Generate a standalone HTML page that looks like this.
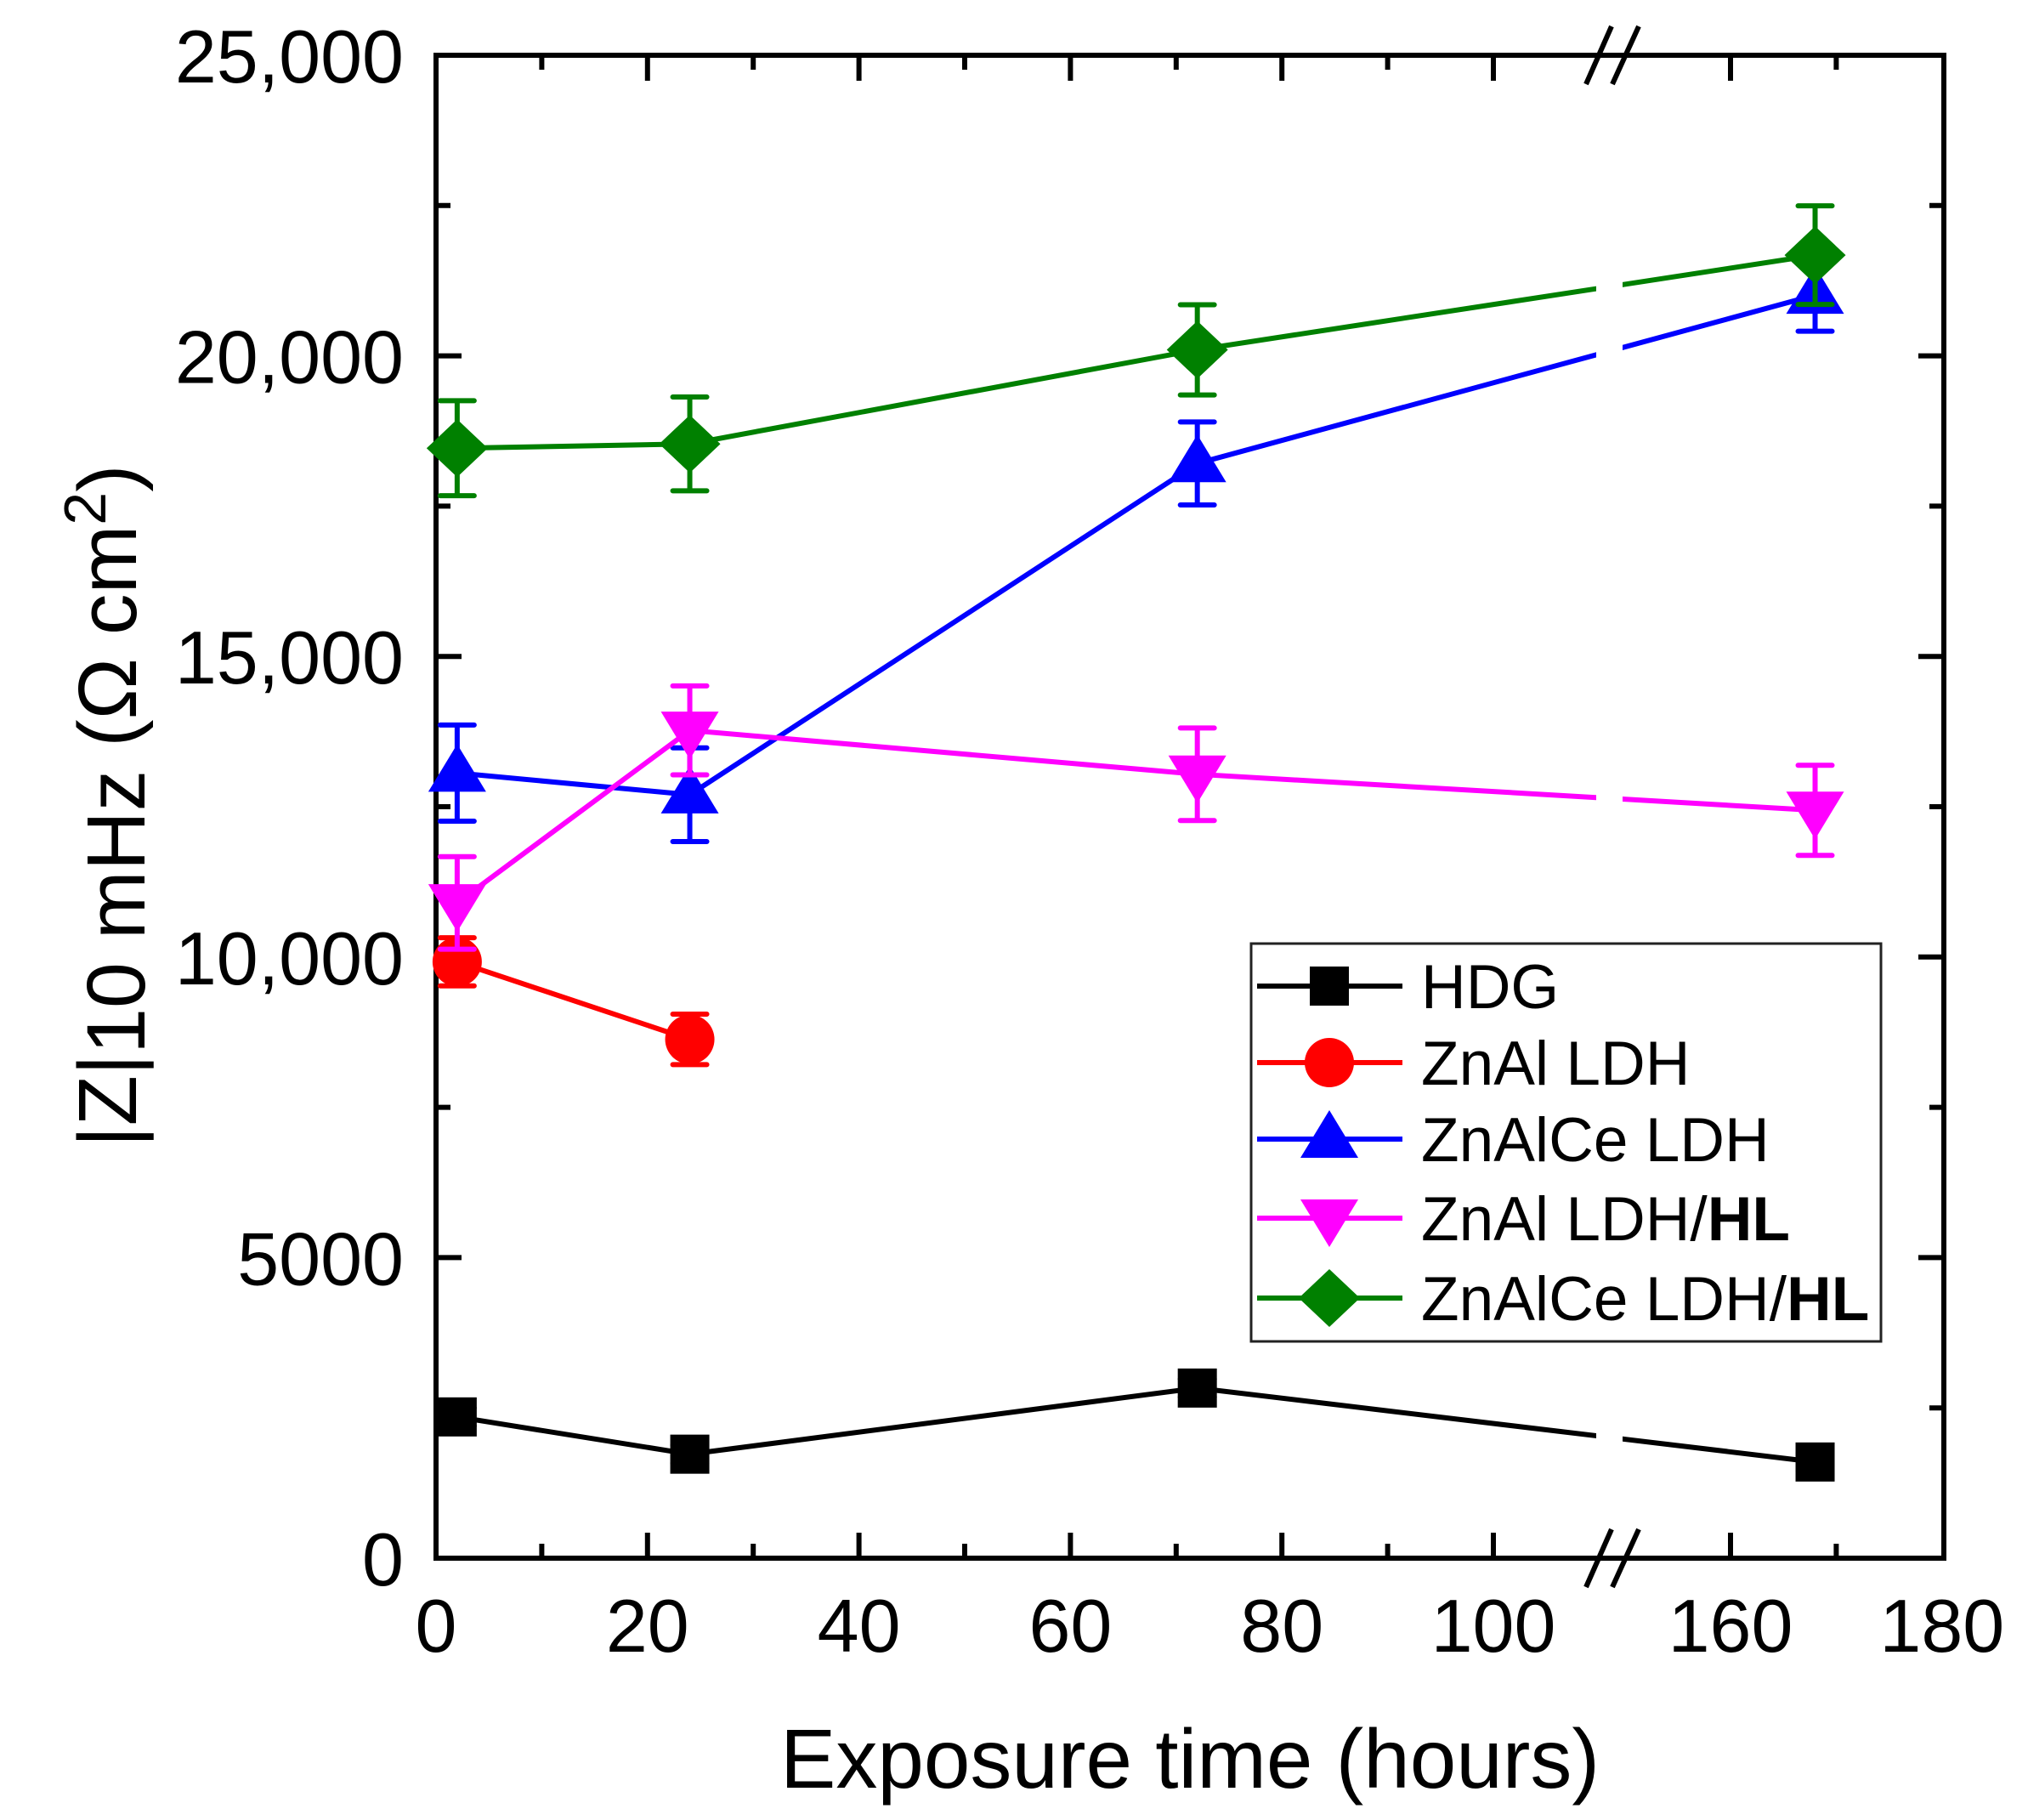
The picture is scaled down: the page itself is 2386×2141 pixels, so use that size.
<!DOCTYPE html>
<html><head><meta charset="utf-8">
<style>
html,body{margin:0;padding:0;background:#fff;}
svg{display:block;}
text{font-family:"Liberation Sans",Arial,sans-serif;fill:#000;}
</style></head>
<body>
<svg id="chart" width="2386" height="2141" viewBox="0 0 2386 2141" xmlns="http://www.w3.org/2000/svg">
<defs>
<clipPath id="gapclip"><rect x="0" y="0" width="1878" height="2141"/><rect x="1909" y="0" width="500" height="2141"/></clipPath>
</defs>
<g id="axes"></g>
<g id="series"></g>
<g id="legend"></g>
<text x="1400" y="2103" font-size="98" text-anchor="middle">Exposure time (hours)</text>
<text transform="translate(160,948) rotate(-90)" font-size="97" text-anchor="middle">|Z|<tspan dy="10">10 mHz</tspan><tspan dy="-10"> (Ω cm</tspan><tspan dy="-36" font-size="70">2</tspan><tspan dy="36">)</tspan></text>
</svg>
<script>
const xTimes = [2, 24, 72, 168];
const hdgVals = [2350, 1730, 2830, 1600];
const hdgErr = [150, 150, 150, 150];
const znalVals = [9920, 8630];
const znalErr = [400, 420];
const znalceVals = [13060, 12700, 18210, 21010];
const znalceErr = [800, 780, 690, 600];
const znalHlVals = [10900, 13770, 13040, 12440];
const znalHlErr = [770, 740, 770, 750];
const znalceHlVals = [18463, 18535, 20100, 21675];
const znalceHlErr = [790, 780, 750, 820];
const yTickVals = [0, 5000, 10000, 15000, 20000, 25000];
const yTickLabels = ["0", "5000", "10,000", "15,000", "20,000", "25,000"];
const xTickVals = [0, 20, 40, 60, 80, 100, 160, 180];
const xTickLabels = ["0", "20", "40", "60", "80", "100", "160", "180"];
const xMinorVals = [10, 30, 50, 70, 90, 170];
const legendLabels = ["HDG", "ZnAl LDH", "ZnAlCe LDH", "ZnAl LDH/", "ZnAlCe LDH/"];

const NS = "http://www.w3.org/2000/svg";
const L = 513, R = 2287, T = 65, B = 1833;
function xs(x){ return x <= 120 ? L + x*12.44 : 2036 + (x-160)*12.44; }
function ys(v){ return B - v*(B-T)/25000; }
function mk(tag, attrs, parent){
  const e = document.createElementNS(NS, tag);
  for (const k in attrs) e.setAttribute(k, attrs[k]);
  parent.appendChild(e);
  return e;
}
const axes = document.getElementById('axes');
const series = document.getElementById('series');
const legend = document.getElementById('legend');

// frame
let fr = mk('rect', {x:L, y:T, width:R-L, height:B-T, fill:'none', stroke:'#000', 'stroke-width':6}, axes);



// y ticks
yTickVals.forEach((v,i)=>{
  const y = ys(v);
  let t1 = mk('line', {x1:L, x2:L+30, y1:y, y2:y, stroke:'#000','stroke-width':6}, axes);
  
  
  let t2 = mk('line', {x1:R, x2:R-30, y1:y, y2:y, stroke:'#000','stroke-width':6}, axes);
  
  
  let lb = mk('text', {x:475, y:y+32, 'font-size':88, 'text-anchor':'end'}, axes);
  lb.textContent = yTickLabels[i];
  
  
  if (i < yTickVals.length-1){
    const ym = ys(v+2500);
    let m1 = mk('line', {x1:L, x2:L+17, y1:ym, y2:ym, stroke:'#000','stroke-width':6}, axes);
    
    
    let m2 = mk('line', {x1:R, x2:R-17, y1:ym, y2:ym, stroke:'#000','stroke-width':6}, axes);
    
    
  }
});
// x ticks
xTickVals.forEach((v,i)=>{
  const x = xs(v);
  if (v !== 0 && v !== 180){
    let t1 = mk('line', {x1:x, x2:x, y1:B, y2:B-30, stroke:'#000','stroke-width':6}, axes);
    
    
    let t2 = mk('line', {x1:x, x2:x, y1:T, y2:T+30, stroke:'#000','stroke-width':6}, axes);
    
    
  }
  let lb = mk('text', {x:x, y:1943, 'font-size':88, 'text-anchor':'middle'}, axes);
  lb.textContent = xTickLabels[i];
  
  
});
xMinorVals.forEach(v=>{
  const x = xs(v);
  let t1 = mk('line', {x1:x, x2:x, y1:B, y2:B-17, stroke:'#000','stroke-width':6}, axes);
  
  
  let t2 = mk('line', {x1:x, x2:x, y1:T, y2:T+17, stroke:'#000','stroke-width':6}, axes);
  
  
});
// break marks
[T, B].forEach(yb=>{
  [[1866,1896],[1897,1928]].forEach(s=>{
    let br = mk('line', {x1:s[0], y1:yb+34, x2:s[1], y2:yb-34, stroke:'#000','stroke-width':6}, axes);
    
    
  });
});

// markers
function marker(type, cx, cy, color, parent){
  let e;
  if (type==='square') e = mk('rect', {x:cx-23, y:cy-23, width:46, height:46, fill:color}, parent);
  else if (type==='circle') e = mk('ellipse', {cx:cx, cy:cy, rx:29, ry:29, fill:color}, parent);
  else if (type==='up') e = mk('polygon', {points:`${cx},${cy-34} ${cx+34},${cy+22} ${cx-34},${cy+22}`, fill:color}, parent);
  else if (type==='down') e = mk('polygon', {points:`${cx},${cy+34} ${cx+34},${cy-22} ${cx-34},${cy-22}`, fill:color}, parent);
  else e = mk('polygon', {points:`${cx},${cy-34} ${cx+36},${cy} ${cx},${cy+34} ${cx-36},${cy}`, fill:color}, parent);
  return e;
}
const defs = [
  {name:'hdg', vals:hdgVals, err:hdgErr, color:'#000', type:'square'},
  {name:'znal-ldh', vals:znalVals, err:znalErr, color:'#ff0000', type:'circle'},
  {name:'znalce-ldh', vals:znalceVals, err:znalceErr, color:'#0000ff', type:'up'},
  {name:'znal-ldh-hl', vals:znalHlVals, err:znalHlErr, color:'#ff00ff', type:'down'},
  {name:'znalce-ldh-hl', vals:znalceHlVals, err:znalceHlErr, color:'#008000', type:'diamond'}
];
defs.forEach(s=>{
  const g = mk('g', {}, series);
  
  
  const pts = s.vals.map((v,i)=>xs(xTimes[i])+','+ys(v)).join(' ');
  let ln = mk('polyline', {points:pts, fill:'none', stroke:s.color, 'stroke-width':6, 'clip-path':'url(#gapclip)'}, g);
  
  
  s.vals.forEach((v,i)=>{
    const cx = xs(xTimes[i]);
    const yt = ys(v + s.err[i]), yb = ys(v - s.err[i]);
    let eb = mk('path', {d:`M${cx},${yt}V${yb}M${cx-20},${yt}H${cx+20}M${cx-20},${yb}H${cx+20}`, stroke:s.color, 'stroke-width':6, 'stroke-linecap':'round', fill:'none'}, g);
    
    
    let m = marker(s.type, cx, ys(v), s.color, g);
    
    
  });
});

// legend
let box = mk('rect', {x:1472, y:1110, width:741, height:468, fill:'#fff', stroke:'#222', 'stroke-width':3}, legend);


const rowY = [1160, 1250, 1340, 1433, 1527];
defs.forEach((s,i)=>{
  const g = mk('g', {}, legend);
  
  
  const y = rowY[i];
  mk('line', {x1:1479, x2:1650, y1:y, y2:y, stroke:s.color, 'stroke-width':6}, g);
  marker(s.type, 1564, y, s.color, g);
  const t = mk('text', {x:1672, y:y+26, 'font-size':73}, g);
  t.textContent = legendLabels[i];
  if (i >= 3){
    const b = document.createElementNS(NS, 'tspan');
    b.setAttribute('font-weight', 'bold');
    b.textContent = 'HL';
    t.appendChild(b);
  }
});
</script>
</body></html>
